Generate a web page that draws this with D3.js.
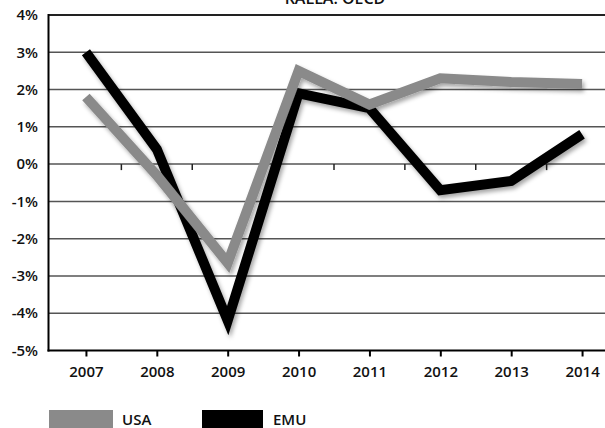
<!DOCTYPE html>
<html>
<head>
<meta charset="utf-8">
<script src="https://cdn.jsdelivr.net/npm/d3@7"></script>
<style>
html,body{margin:0;padding:0;background:#fff;}
svg{display:block;font-family:"Open Sans",sans-serif;font-weight:600;}
</style>
</head>
<body>
<svg id="chart" width="605" height="428"></svg>
<script>
const years = ["2007","2008","2009","2010","2011","2012","2013","2014"];
const usa = [1.8, -0.3, -2.65, 2.5, 1.6, 2.3, 2.2, 2.15];
const emu = [3.0, 0.4, -4.2, 1.9, 1.5, -0.7, -0.45, 0.8];
const yTicks = [4,3,2,1,0,-1,-2,-3,-4,-5];
const seriesNames = ["USA","EMU"];
const seriesColors = ["#8a8a8a","#000000"];
const title = "KÄLLA: OECD";

const svg = d3.select("#chart");
const pL = 48.5, pT = 15, pB = 350.5, pR = 617.5;

const x = d3.scalePoint().domain(years).range([50.5, pR]).padding(0.5);
const y = d3.scaleLinear().domain([-5, 4]).range([pB, pT]);
const step = x.step();

const defs = svg.append("defs");
const f = defs.append("filter").attr("id","sh").attr("x","-20%").attr("y","-20%").attr("width","140%").attr("height","140%");
f.append("feDropShadow").attr("dx",2).attr("dy",3).attr("stdDeviation",2.2).attr("flood-color","#000").attr("flood-opacity",0.35);

// gridlines
svg.append("g").selectAll("line").data(yTicks.filter(d => d !== -5)).join("line")
  .attr("x1", pL).attr("x2", 605)
  .attr("y1", d => y(d)).attr("y2", d => y(d))
  .attr("stroke", d => d === 4 ? "#222" : "#555")
  .attr("stroke-width", d => d === 4 ? 2 : 1.5);

// small ticks on the 0% line between categories
svg.append("g").selectAll("line").data(years.slice(0, -1)).join("line")
  .attr("x1", d => x(d) + step / 2).attr("x2", d => x(d) + step / 2)
  .attr("y1", y(0)).attr("y2", y(0) + 6)
  .attr("stroke", "#222").attr("stroke-width", 1.5);

// y axis labels
svg.append("g").selectAll("text").data(yTicks).join("text")
  .attr("x", 38).attr("y", d => y(d)).attr("dy", "0.35em")
  .attr("text-anchor", "end").attr("font-size", 15).attr("fill", "#111")
  .text(d => d + "%");

// x axis
const xAxis = d3.axisBottom(x).tickSize(6).tickPadding(10);
const gx = svg.append("g").attr("transform", `translate(0,${pB})`).call(xAxis);
gx.select(".domain").remove();
gx.selectAll(".tick line").attr("stroke", "#000").attr("stroke-width", 2);
gx.selectAll(".tick text").attr("font-size", 15).attr("fill", "#111")
  .attr("font-family", "Open Sans, sans-serif").attr("font-weight", 600);

// axis lines
svg.append("line").attr("x1", pL).attr("x2", pL).attr("y1", pT - 1).attr("y2", pB + 1)
  .attr("stroke", "#000").attr("stroke-width", 2);
svg.append("line").attr("x1", pL - 1).attr("x2", 605).attr("y1", pB).attr("y2", pB)
  .attr("stroke", "#000").attr("stroke-width", 2);

// lines
const line = d3.line().x((d, i) => x(years[i])).y(d => y(d));
const data = [emu, usa];
const cols = [seriesColors[1], seriesColors[0]];
svg.append("g").selectAll("path").data(data).join("path")
  .attr("d", d => line(d))
  .attr("fill", "none")
  .attr("stroke", (d, i) => cols[i])
  .attr("stroke-width", 10)
  .attr("stroke-linejoin", "miter")
  .attr("stroke-miterlimit", 4)
  .attr("stroke-linecap", "butt")
  .attr("filter", "url(#sh)");

// title
svg.append("text").attr("x", 335).attr("y", 4).attr("text-anchor", "middle")
  .attr("font-size", 16).attr("fill", "#111").text(title);

// legend
const lg = svg.append("g");
const legX = [49, 202];
seriesNames.forEach((n, i) => {
  lg.append("rect").attr("x", legX[i]).attr("y", 410).attr("width", i === 0 ? 64 : 61).attr("height", 18)
    .attr("fill", seriesColors[i]);
  lg.append("text").attr("x", legX[i] + (i === 0 ? 73 : 71)).attr("y", 425)
    .attr("font-size", 15).attr("fill", "#111").text(n);
});
</script>
</body>
</html>
